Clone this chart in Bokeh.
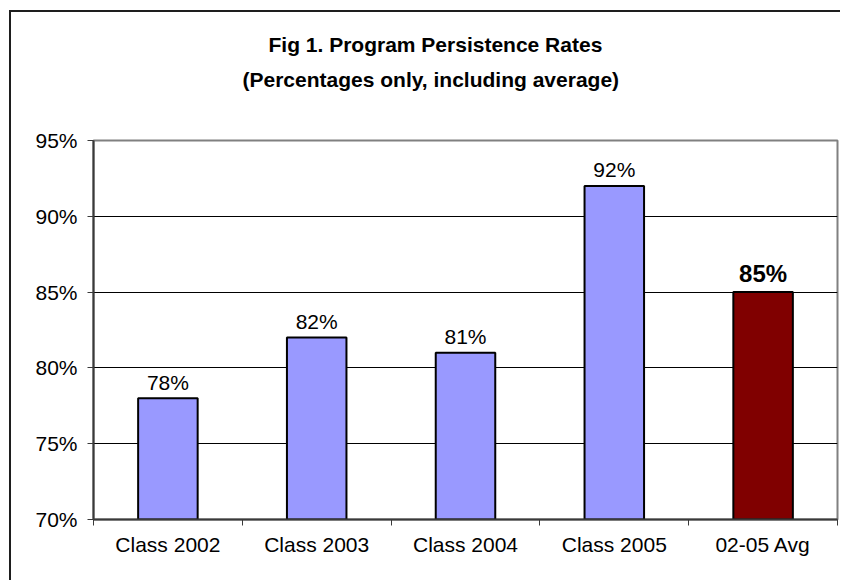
from bokeh.plotting import figure
from bokeh.models import (ColumnDataSource, NumeralTickFormatter, FixedTicker, Title,
                          LinearAxis)
from bokeh.core.properties import value
from bokeh.embed import file_html
from bokeh.resources import INLINE

# ---- data ----
categories = ["Class 2002", "Class 2003", "Class 2004", "Class 2005", "02-05 Avg"]
rates = [0.78, 0.82, 0.81, 0.92, 0.85]
rate_labels = ["78%", "82%", "81%", "92%", "85%"]
bar_colors = ["#9999FF", "#9999FF", "#9999FF", "#9999FF", "#800000"]
y_ticks = [0.70, 0.75, 0.80, 0.85, 0.90, 0.95]
grid_ticks = [0.75, 0.80, 0.85, 0.90]
title_line1 = "Fig 1. Program Persistence Rates"
title_line2 = "(Percentages only, including average)"

FONT = "Liberation Sans"
AXIS_COLOR = "#3a3a3a"

# category slots on a numeric axis: slot i spans [i, i+1], centre at i+0.5
n = len(categories)
centres = [i + 0.5 for i in range(n)]
edges = list(range(n + 1))

src_main = ColumnDataSource(dict(x=centres[:4], top=rates[:4], lab=rate_labels[:4], color=bar_colors[:4]))
src_avg = ColumnDataSource(dict(x=centres[4:], top=rates[4:], lab=rate_labels[4:], color=bar_colors[4:]))

p = figure(
    x_range=(0, n), y_range=(y_ticks[0], y_ticks[-1]),
    width=834, height=573,
    output_backend="svg", toolbar_location=None,
    x_axis_location=None,
    min_border_left=82, min_border_right=8, min_border_top=128, min_border_bottom=66,
)
p.styles = {"margin-left": "9px", "margin-top": "10px",
            "border-left": "2px solid #1e1e1e", "border-top": "2px solid #1e1e1e",
            "clip-path": "inset(0px 3px 3px 0px)"}

# titles (added nearest-to-frame first)
spacer = Title(text=" ", text_font_size="30px")
t2 = Title(text=title_line2, align="left", offset=149, text_font=FONT,
           text_font_size="21px", text_font_style="bold", text_color="black")
t1 = Title(text=title_line1, align="left", offset=175, text_font=FONT,
           text_font_size="21px", text_font_style="bold", text_color="black")
p.add_layout(spacer, "above")
p.add_layout(t2, "above")
p.add_layout(t1, "above")

p.vbar(x="x", top="top", width=0.4, source=src_main, fill_color="color",
       line_color="black", line_width=2)
p.vbar(x="x", top="top", width=0.4, source=src_avg, fill_color="color",
       line_color="black", line_width=2)

p.text(x="x", y="top", text="lab", source=src_main, text_align="center",
       text_baseline="alphabetic", y_offset=-16, text_font=value(FONT),
       text_font_size="21px", text_color="black")
p.text(x="x", y="top", text="lab", source=src_avg, text_align="center",
       text_baseline="alphabetic", y_offset=-19, text_font=value(FONT),
       text_font_size="24px", text_font_style="bold", text_color="black")

# y axis
yax = p.yaxis[0]
yax.ticker = FixedTicker(ticks=y_ticks)
yax.formatter = NumeralTickFormatter(format="0%")
yax.axis_line_color = AXIS_COLOR
yax.axis_line_width = 2
yax.major_tick_line_color = AXIS_COLOR
yax.major_tick_out = 6
yax.major_tick_in = 0
yax.minor_tick_line_color = None
yax.major_label_text_font = FONT
yax.major_label_text_font_size = "21px"
yax.major_label_text_color = "black"
yax.major_label_standoff = 10

# x axis line with ticks at slot boundaries (no labels)
eax = LinearAxis(ticker=FixedTicker(ticks=edges),
                 major_label_overrides={t: "" for t in edges},
                 major_label_text_font_size="1px", major_label_standoff=0)
eax.axis_line_color = AXIS_COLOR
eax.axis_line_width = 2
eax.major_tick_line_color = AXIS_COLOR
eax.major_tick_out = 6
eax.major_tick_in = 0
eax.minor_tick_line_color = None

# category labels at slot centres
cax = LinearAxis(ticker=FixedTicker(ticks=centres),
                 major_label_overrides={c: name for c, name in zip(centres, categories)})
cax.axis_line_color = None
cax.major_tick_line_color = None
cax.minor_tick_line_color = None
cax.major_tick_out = 0
cax.major_tick_in = 0
cax.major_label_text_font = FONT
cax.major_label_text_font_size = "21px"
cax.major_label_text_color = "black"
cax.major_label_standoff = 7

p.below = [eax, cax]

p.xgrid.grid_line_color = None
p.ygrid.ticker = FixedTicker(ticks=grid_ticks)
p.ygrid.grid_line_color = "black"
p.ygrid.grid_line_width = 1

p.outline_line_color = "#808080"
p.outline_line_width = 2
p.background_fill_color = "white"
p.border_fill_color = "white"

open("out.html", "w").write(file_html(p, INLINE))
